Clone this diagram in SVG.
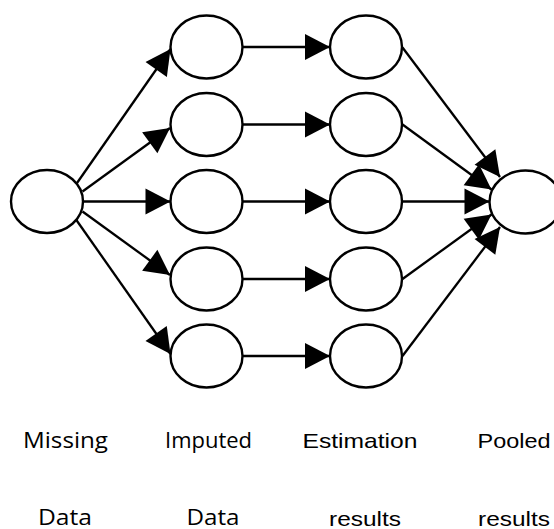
<svg xmlns="http://www.w3.org/2000/svg" width="554" height="529" viewBox="0 0 554 529">
  <style>
    .node { fill: #ffffff; stroke: #000000; stroke-width: 2.4; }
    .edge { fill: none; stroke: #000000; stroke-width: 2.3; marker-end: url(#arrow); }
    .lbl-a { font-family: "Open Sans", "Noto Sans", sans-serif; font-size: 21px; fill: #000000; }
    .lbl-b { font-family: "Liberation Sans", Arial, sans-serif; font-size: 21px; fill: #000000; }
  </style>
  <defs>
    <marker id="arrow" markerUnits="userSpaceOnUse" markerWidth="27" markerHeight="28" refX="25" refY="13" orient="auto" overflow="visible">
      <path d="M0,0 L25,13 L0,26 Z" fill="#000000"/>
    </marker>
  </defs>

  <!-- connectors -->
  <g id="edges">
    <!-- missing data to imputed sets -->
    <line class="edge" x1="77" y1="183" x2="170.5" y2="49"/>
    <line class="edge" x1="82.5" y1="191.5" x2="170" y2="128"/>
    <line class="edge" x1="83" y1="201.5" x2="170.5" y2="201.5"/>
    <line class="edge" x1="82.5" y1="211.5" x2="170" y2="275"/>
    <line class="edge" x1="76" y1="219.5" x2="170.5" y2="354"/>
    <!-- imputed sets to estimation results -->
    <line class="edge" x1="242.5" y1="47" x2="330" y2="47"/>
    <line class="edge" x1="242.5" y1="124.5" x2="330" y2="124.5"/>
    <line class="edge" x1="242.5" y1="201.5" x2="330" y2="201.5"/>
    <line class="edge" x1="242.5" y1="279" x2="330" y2="279"/>
    <line class="edge" x1="242.5" y1="356" x2="330" y2="356"/>
    <!-- estimation results to pooled result -->
    <line class="edge" x1="402.5" y1="47.5" x2="500" y2="177"/>
    <line class="edge" x1="402.5" y1="124.5" x2="491.5" y2="189.5"/>
    <line class="edge" x1="402.5" y1="201.5" x2="489.5" y2="201.5"/>
    <line class="edge" x1="402.5" y1="279" x2="491.5" y2="214.5"/>
    <line class="edge" x1="402.5" y1="356" x2="500" y2="227"/>
  </g>

  <!-- nodes -->
  <g id="missing"><ellipse class="node" cx="47" cy="201.5" rx="36" ry="31.5"/></g>

  <g id="imputed1"><ellipse class="node" cx="206.5" cy="47" rx="36" ry="31.5"/></g>
  <g id="imputed2"><ellipse class="node" cx="206.5" cy="124.5" rx="36" ry="31.5"/></g>
  <g id="imputed3"><ellipse class="node" cx="206.5" cy="201.5" rx="36" ry="31.5"/></g>
  <g id="imputed4"><ellipse class="node" cx="206.5" cy="279" rx="36" ry="31.5"/></g>
  <g id="imputed5"><ellipse class="node" cx="206.5" cy="356" rx="36" ry="31.5"/></g>

  <g id="estimate1"><ellipse class="node" cx="366" cy="47" rx="36" ry="31.5"/></g>
  <g id="estimate2"><ellipse class="node" cx="366" cy="124.5" rx="36" ry="31.5"/></g>
  <g id="estimate3"><ellipse class="node" cx="366" cy="201.5" rx="36" ry="31.5"/></g>
  <g id="estimate4"><ellipse class="node" cx="366" cy="279" rx="36" ry="31.5"/></g>
  <g id="estimate5"><ellipse class="node" cx="366" cy="356" rx="36" ry="31.5"/></g>

  <g id="pooled"><ellipse class="node" cx="525.5" cy="202" rx="36" ry="31.5"/></g>

  <!-- column captions -->
  <g id="captions">
    <text class="lbl-a" x="23" y="448" textLength="85" lengthAdjust="spacingAndGlyphs">Missing</text>
    <text class="lbl-a" x="38" y="524.5" textLength="54" lengthAdjust="spacingAndGlyphs">Data</text>
    <text class="lbl-a" x="165" y="448" textLength="87" lengthAdjust="spacingAndGlyphs">Imputed</text>
    <text class="lbl-a" x="186.5" y="524.5" textLength="53" lengthAdjust="spacingAndGlyphs">Data</text>
    <text class="lbl-b" x="302.5" y="448" textLength="115" lengthAdjust="spacingAndGlyphs">Estimation</text>
    <text class="lbl-b" x="329" y="526" textLength="72" lengthAdjust="spacingAndGlyphs">results</text>
    <text class="lbl-b" x="477.5" y="448" textLength="73" lengthAdjust="spacingAndGlyphs">Pooled</text>
    <text class="lbl-b" x="478" y="526" textLength="72" lengthAdjust="spacingAndGlyphs">results</text>
  </g>
</svg>
